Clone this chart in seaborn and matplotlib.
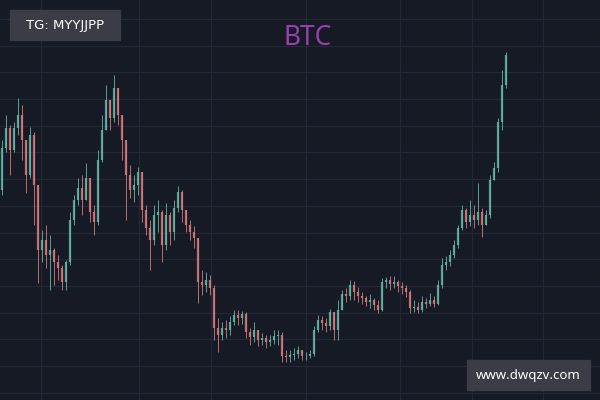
import numpy as np
import matplotlib
matplotlib.use("Agg")
import matplotlib.pyplot as plt
from matplotlib.patches import Rectangle
import seaborn as sns

# candle values (arbitrary price units), one candle per slot
first_open = 210
close = [252, 272, 250, 272, 285, 260, 225, 265, 215, 150,
         160, 145, 150, 138, 132, 118, 138, 180, 200, 212,
         200, 222, 188, 178, 240, 270, 300, 282, 312, 285,
         260, 225, 210, 215, 228, 190, 172, 160, 185, 188,
         155, 185, 168, 192, 208, 190, 175, 168, 162, 118,
         115, 120, 112, 72, 65, 72, 70, 78, 85, 82,
         86, 68, 63, 70, 60, 62, 58, 60, 64, 65,
         44, 43, 45, 46, 50, 44, 44, 46, 70, 80,
         77, 74, 88, 70, 90, 106, 104, 115, 108, 104,
         102, 98, 100, 95, 90, 118, 120, 116, 118, 114,
         112, 108, 92, 93, 90, 98, 96, 100, 96, 115,
         135, 138, 145, 155, 172, 190, 178, 185, 180, 188,
         175, 185, 220, 232, 278, 315, 345]
high = [260, 285, 275, 278, 302, 295, 260, 273, 268, 172,
        170, 175, 165, 152, 145, 135, 140, 188, 205, 222,
        225, 237, 215, 195, 250, 285, 315, 300, 325, 308,
        282, 260, 235, 225, 233, 222, 195, 180, 195, 200,
        190, 197, 188, 200, 214, 210, 188, 180, 174, 162,
        130, 128, 125, 115, 82, 78, 80, 84, 90, 90,
        89, 88, 72, 78, 70, 67, 65, 65, 70, 70,
        68, 50, 50, 52, 54, 50, 48, 50, 74, 85,
        84, 82, 91, 88, 100, 110, 112, 120, 119, 113,
        108, 104, 106, 102, 100, 122, 123, 124, 124, 120,
        118, 115, 110, 100, 98, 104, 102, 107, 104, 120,
        142, 144, 150, 160, 175, 195, 192, 200, 195, 217,
        192, 190, 225, 238, 282, 330, 348]
low = [205, 248, 225, 248, 265, 240, 207, 222, 175, 117,
       138, 132, 110, 115, 120, 110, 110, 135, 175, 195,
       185, 200, 178, 165, 175, 238, 270, 270, 278, 275,
       240, 180, 202, 198, 205, 178, 165, 130, 155, 168,
       138, 150, 155, 160, 188, 178, 168, 160, 152, 97,
       105, 108, 105, 60, 48, 60, 62, 65, 75, 75,
       76, 62, 55, 58, 54, 55, 52, 54, 56, 55,
       38, 38, 38, 40, 42, 40, 40, 42, 44, 68,
       70, 68, 70, 60, 60, 95, 98, 100, 100, 98,
       96, 94, 92, 90, 87, 89, 112, 110, 112, 108,
       106, 103, 87, 88, 87, 88, 92, 94, 93, 95,
       112, 130, 134, 142, 152, 170, 172, 174, 172, 175,
       163, 175, 182, 224, 228, 270, 312]

close = np.array(close, dtype=float)
high = np.array(high, dtype=float)
low = np.array(low, dtype=float)
opens = np.concatenate([[first_open], close[:-1]])
idx = np.arange(len(close))

BG = "#161a25"
GRID = "#232836"
UP = "#66b8a8"
DOWN = "#d97b7c"

sns.set_theme(style="darkgrid", rc={
    "axes.facecolor": BG,
    "figure.facecolor": BG,
    "grid.color": GRID,
    "grid.linewidth": 0.9,
    "axes.edgecolor": BG,
})
plt.rcParams["font.family"] = ["Noto Sans", "DejaVu Sans"]

fig = plt.figure(figsize=(6, 4), dpi=100)
ax = fig.add_axes([0, 0, 1, 1])

colors = np.where(close >= opens, UP, DOWN)
ax.vlines(idx, np.minimum(low, np.minimum(opens, close)),
          np.maximum(high, np.maximum(opens, close)),
          colors=colors, linewidth=0.7, alpha=0.85)
ax.vlines(idx, np.minimum(opens, close), np.maximum(opens, close),
          colors=colors, linewidth=1.6, alpha=0.85)

ax.set_xlim(-0.5, 149.5)
ax.set_ylim(0, 400)
ax.set_xticks([9.75, 34.25, 52.25, 76, 99.5, 117.5, 135.25])
ax.set_yticks(np.arange(7.3, 400, 26.7))
ax.tick_params(labelbottom=False, labelleft=False, length=0)
for s in ax.spines.values():
    s.set_visible(False)

# title
fig.text(308 / 600, 1 - 38 / 400, "BTC", ha="center", va="center",
         fontsize=19, color="#9b3fb0")

# label boxes
fig.add_artist(Rectangle((10 / 600, 1 - 40 / 400), 110 / 600, 30 / 400,
                         transform=fig.transFigure, color="#3a3d45", zorder=5))
fig.text(65 / 600, 1 - 25 / 400, "TG: MYYJJPP", ha="center", va="center",
         fontsize=9.5, color="white", zorder=6, family="DejaVu Sans")
fig.add_artist(Rectangle((467 / 600, 1 - 390 / 400), 123 / 600, 30 / 400,
                         transform=fig.transFigure, color="#3a3d45", zorder=5))
fig.text(528 / 600, 1 - 375 / 400, "www.dwqzv.com", ha="center", va="center",
         fontsize=9.5, color="white", zorder=6)

fig.savefig("out.png", dpi=100, facecolor=BG)
